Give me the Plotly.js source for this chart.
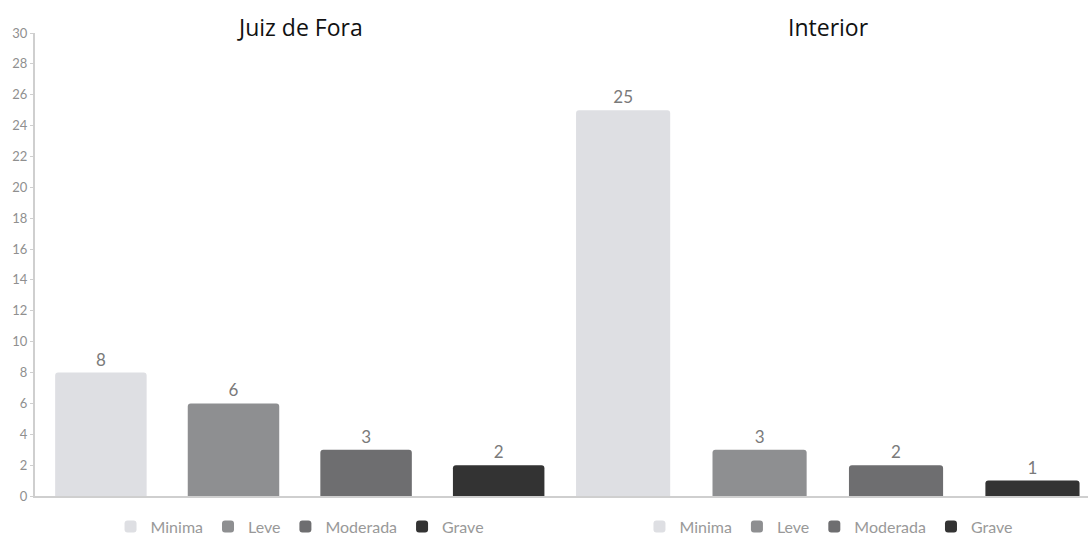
<!DOCTYPE html>
<html>
<head>
<meta charset="utf-8">
<script src="https://cdn.plot.ly/plotly-3.0.1.min.js"></script>
<style>html,body{margin:0;padding:0;background:#fff;}#chart{width:1088px;height:538px;}</style>
</head>
<body>
<div id="chart"></div>
<script>
var categories = ['Minima', 'Leve', 'Moderada', 'Grave'];
var juizDeForaValues = [8, 6, 3, 2];
var interiorValues = [25, 3, 2, 1];
var groupTitles = ['Juiz de Fora', 'Interior'];
var yTickValues = [0, 2, 4, 6, 8, 10, 12, 14, 16, 18, 20, 22, 24, 26, 28, 30];

var barColors = ['#dedfe3', '#8e8f91', '#6e6e70', '#333333'];

var traces = [];
function addGroup(values, xaxis, legend) {
  categories.forEach(function (c, i) {
    traces.push({
      type: 'bar',
      x: [c],
      y: [values[i]],
      name: c,
      xaxis: xaxis,
      yaxis: 'y',
      legend: legend,
      marker: { color: barColors[i], cornerradius: 3 },
      text: [String(values[i])],
      textposition: 'outside',
      textfont: { family: 'Lato, sans-serif', size: 17, color: '#7a7a7a' },
      cliponaxis: false,
      hoverinfo: 'x+y'
    });
  });
}
addGroup(juizDeForaValues, 'x', 'legend');
addGroup(interiorValues, 'x2', 'legend2');

var legendCommon = {
  orientation: 'h',
  xref: 'paper', yref: 'paper',
  xanchor: 'center', yanchor: 'middle',
  y: -0.066,
  font: { family: 'Lato, sans-serif', size: 16, color: '#999999' },
  itemwidth: 30,
  itemclick: false, itemdoubleclick: false,
  bgcolor: 'rgba(0,0,0,0)',
  traceorder: 'normal'
};

var layout = {
  width: 1088, height: 538,
  margin: { l: 35, r: 0, t: 33, b: 42, autoexpand: false },
  paper_bgcolor: '#ffffff', plot_bgcolor: '#ffffff',
  barmode: 'relative',
  bargap: 0.31,
  showlegend: true,
  xaxis: {
    domain: [0, 0.5033],
    type: 'category',
    categoryorder: 'array', categoryarray: categories,
    range: [-0.497, 3.5],
    showticklabels: false, ticks: '',
    showgrid: false, zeroline: false,
    showline: true, linecolor: '#cfcfcf', linewidth: 2,
    fixedrange: true
  },
  xaxis2: {
    domain: [0.494, 1],
    anchor: 'y',
    type: 'category',
    categoryorder: 'array', categoryarray: categories,
    range: [-0.498, 3.407],
    showticklabels: false, ticks: '',
    showgrid: false, zeroline: false,
    showline: true, linecolor: '#cfcfcf', linewidth: 2,
    fixedrange: true
  },
  yaxis: {
    range: [0, 30],
    tickvals: yTickValues,
    ticktext: yTickValues.map(String),
    ticks: 'outside', ticklen: 3, tickcolor: '#cfcfcf',
    tickfont: { family: 'Lato, sans-serif', size: 13, color: '#8f8f8f' },
    showgrid: false, zeroline: false,
    showline: true, linecolor: '#cfcfcf', linewidth: 2,
    fixedrange: true
  },
  legend: Object.assign({}, legendCommon, { x: 0.2517 }),
  legend2: Object.assign({}, legendCommon, { x: 0.754 }),
  annotations: [
    { text: groupTitles[0], xref: 'paper', yref: 'paper', x: 0.2517, y: 1.013, xanchor: 'center', yanchor: 'middle', showarrow: false,
      font: { family: 'Open Sans, sans-serif', size: 23, color: '#111111' } },
    { text: groupTitles[1], xref: 'paper', yref: 'paper', x: 0.754, y: 1.013, xanchor: 'center', yanchor: 'middle', showarrow: false,
      font: { family: 'Open Sans, sans-serif', size: 23, color: '#111111' } }
  ]
};

Plotly.newPlot('chart', traces, layout, { displayModeBar: false, staticPlot: false });
</script>
</body>
</html>
